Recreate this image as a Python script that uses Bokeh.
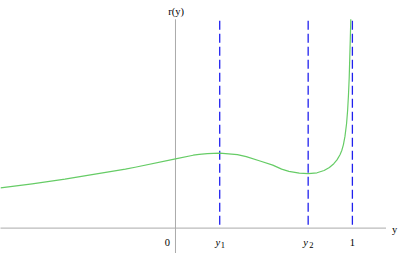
from bokeh.plotting import figure
from bokeh.embed import file_html
from bokeh.resources import INLINE
from bokeh.core.properties import value
from bokeh.models import Range1d

# curve r(y)
ys = [-0.989, -0.810, -0.625, -0.446, -0.283, -0.228, 0.0, 0.10, 0.134, 0.18, 0.25,
      0.35, 0.40, 0.478, 0.55, 0.60, 0.641, 0.70, 0.75, 0.80, 0.84, 0.87, 0.895,
      0.913, 0.93, 0.94, 0.949, 0.958, 0.967, 0.973, 0.978, 0.982, 0.985, 0.988, 0.991]
rs = [0.427, 0.47, 0.52, 0.577, 0.627, 0.647, 0.737, 0.775, 0.784, 0.792, 0.797,
      0.782, 0.76, 0.713, 0.67, 0.627, 0.603, 0.585, 0.58, 0.588, 0.612, 0.645, 0.685,
      0.725, 0.78, 0.825, 0.885, 0.975, 1.11, 1.25, 1.42, 1.6, 1.8, 2.0, 2.22]

# special points on the y axis
mark_x = [0.25, 0.75, 1.0]
mark_top = 2.205

# tick labels
tick_main = ["y", "y", "1"]
tick_main_x = [0.240, 0.736, 1.0]
tick_sub = ["1", "2"]
tick_sub_x = [0.268, 0.768]

p = figure(width=399, height=253, output_backend="svg", toolbar_location=None,
           x_axis_location=None, y_axis_location=None, min_border=0,
           x_range=Range1d(-0.98913, 1.26630), y_range=Range1d(-0.27, 2.42))
p.outline_line_color = None
p.grid.visible = False
p.background_fill_color = "white"

axis_col = "#aaaaaa"
# axes
p.segment(x0=[-1.0], y0=[0], x1=[1.19], y1=[0], line_color=axis_col, line_width=1)
p.segment(x0=[0.0], y0=[-0.27], x1=[0.0], y1=[2.22], line_color=axis_col, line_width=1)

# dashed verticals
p.segment(x0=mark_x, y0=[mark_top] * 3, x1=mark_x, y1=[0] * 3,
          line_color="#2020ee", line_width=1.3, line_dash="9 4")

# curve
p.line(ys, rs, line_color="#66cc66", line_width=1.2, line_join="round")

serif = value("Liberation Serif")
fs = "10.5px"
p.text(x=[tick_main_x[0], tick_main_x[1]], y=[-0.155] * 2, text=tick_main[:2],
       text_font=serif, text_font_size=fs, text_font_style="italic",
       text_align="center", text_baseline="alphabetic", text_color="black")
p.text(x=tick_sub_x, y=[-0.18] * 2, text=tick_sub,
       text_font=serif, text_font_size="8.5px",
       text_align="center", text_baseline="alphabetic", text_color="black")
p.text(x=[-0.046, tick_main_x[2]], y=[-0.155] * 2, text=["0", tick_main[2]],
       text_font=serif, text_font_size=fs,
       text_align="center", text_baseline="alphabetic", text_color="black")
# axis titles
p.text(x=[1.239], y=[-0.02], text=["y"], text_font=serif, text_font_size=fs,
       text_align="center", text_baseline="alphabetic", text_color="black")
p.text(x=[0.003], y=[2.305], text=["r(y)"], text_font=serif, text_font_size=fs,
       text_align="center", text_baseline="alphabetic", text_color="black")

open("out.html", "w").write(file_html(p, INLINE))
